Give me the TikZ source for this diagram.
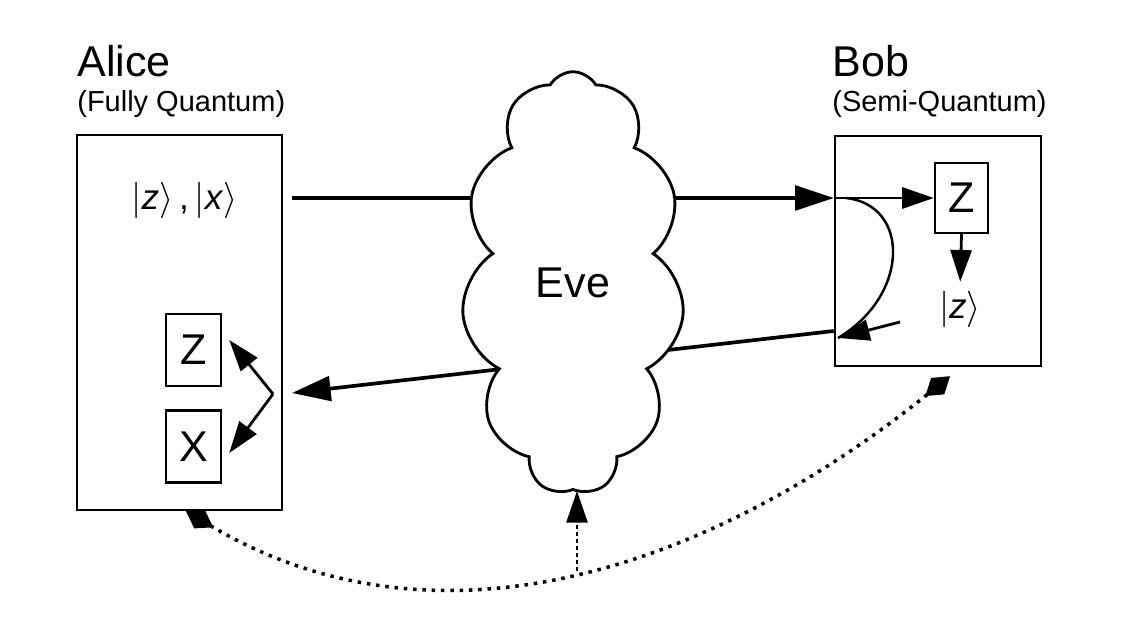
\documentclass[tikz,border=0pt]{standalone}
\usepackage{fontspec}
\setmainfont{Liberation Sans}
\usetikzlibrary{arrows.meta,shapes.symbols}
\newcommand{\bigsize}{\fontsize{24.5}{28}\selectfont}
\newcommand{\subsize}{\fontsize{16.5}{19}\selectfont}
\newcommand{\ketsize}{\fontsize{20}{23}\selectfont}
\begin{document}
\begin{tikzpicture}[
    box/.style={draw, line width=1.4pt, inner sep=0},
    title/.style={anchor=base west, inner sep=0, font=\bigsize},
    subtitle/.style={anchor=base west, inner sep=0, font=\subsize},
    bigarr/.style={line width=2.1pt, -{Triangle[length=22pt,width=14pt]}},
    smallarr/.style={line width=1.6pt, -{Triangle[length=18pt,width=12pt]}},
    dotline/.style={line width=2pt, dash pattern=on 2pt off 3.3pt},
    dashline/.style={line width=1.3pt, dash pattern=on 2.3pt off 1.7pt}]
    \useasboundingbox (0,0) rectangle (22.46,-12.48);
    % titles
    \draw(1.54,-1.54) node [title](alicet){Alice};
    \draw(1.54,-2.24) node [subtitle](alices){(Fully Quantum)};
    \draw(16.64,-1.54) node [title](bobt){Bob};
    \draw(16.64,-2.24) node [subtitle](bobs){(Semi-Quantum)};
    % boxes
    \draw(3.59,-6.45) node [box, minimum width=4.10cm, minimum height=7.50cm](alice){};
    \draw(18.76,-5.02) node [box, minimum width=4.12cm, minimum height=4.60cm](bob){};
    \draw(3.87,-7.00) node [box, minimum width=1.10cm, minimum height=1.44cm, font=\bigsize](za){Z};
    \draw(3.87,-8.93) node [box, minimum width=1.10cm, minimum height=1.44cm, font=\bigsize](xa){X};
    \draw(19.23,-3.96) node [box, minimum width=1.06cm, minimum height=1.40cm, font=\bigsize](zb){Z};
    \draw(3.69,-4.00) node [font=\ketsize](kets){$|$\textit{z}$\rangle$\,,\,$|$\textit{x}$\rangle$};
    \draw(19.20,-6.18) node [font=\ketsize, inner sep=0](kz){$|$\textit{z}$\rangle$};

    \coordinate (atx) at (5.84,-3.96);
    \coordinate (brx) at (bob.west |- 0,-6.62);
    \coordinate (arx) at (5.84,-7.86);
    \coordinate (fork) at (5.46,-7.88);
    \coordinate (zin) at ([shift={(0.14,0.20)}]za.east);
    \coordinate (xin) at ([shift={(0.14,-0.13)}]xa.east);
    \coordinate (cstart) at (16.92,-3.96);
    \coordinate (cend) at (16.76,-6.76);
    \coordinate (ctail) at (18.00,-6.44);
    \coordinate (ad) at ([xshift=0.13cm]alice.south);
    \coordinate (bd) at ([shift={(0.24,-0.18)}]bob.south);

    \draw[bigarr] (atx) -- (bob.west |- atx);
    \draw[bigarr] (brx) -- (arx);
    \draw[smallarr] (fork) -- (zin);
    \draw[smallarr] (fork) -- (xin);
    \draw[smallarr] (bob.west |- zb) -- (zb.west);
    \draw[smallarr, shorten >=5pt] (zb.south) -- (kz.north);
    \draw[line width=1.4pt] (cstart) .. controls (18.2,-4.1) and (18.2,-5.9) .. (cend);
    \draw[smallarr] (ctail) -- (cend);

    \draw(11.46,-5.66) node [cloud, draw, fill=white, cloud puffs=11, cloud puff arc=120, aspect=0.5,
        minimum width=4.45cm, minimum height=8.45cm, line width=1.6pt, font=\bigsize](eve){Eve};

    \draw[dotline, {Diamond[length=18pt,width=12pt]}-{Diamond[length=18pt,width=12pt]}]
        (ad) .. controls (8.86,-13.27) and (14.34,-11.27) .. (bd) coordinate[pos=0.5] (meet);
    \draw[dashline, -{Triangle[length=18pt,width=12pt]}] (meet) -- (meet |- eve.south);
\end{tikzpicture}
\end{document}
